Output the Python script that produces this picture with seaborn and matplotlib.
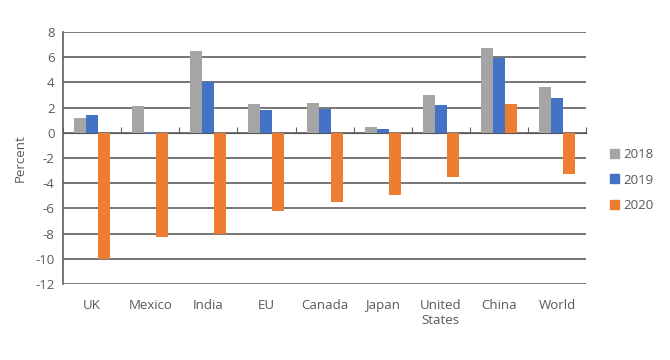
import pandas as pd
import matplotlib.pyplot as plt
import seaborn as sns
from matplotlib.patches import Patch

# datos
countries = ['UK', 'Mexico', 'India', 'EU', 'Canada', 'Japan', 'United\nStates', 'China', 'World']
g2018 = [1.2, 2.1, 6.5, 2.3, 2.4, 0.5, 3.0, 6.7, 3.6]
g2019 = [1.4, -0.1, 4.0, 1.8, 1.9, 0.3, 2.2, 5.9, 2.8]
g2020 = [-10.0, -8.3, -8.0, -6.2, -5.5, -4.9, -3.5, 2.3, -3.3]
years = ['2018', '2019', '2020']
colors = ['#A5A5A5', '#4472C4', '#ED7D31']

df = pd.DataFrame({'country': countries * 3,
                   'year': [y for y in years for _ in countries],
                   'value': g2018 + g2019 + g2020})

sns.set_style('white')
plt.rcParams['font.family'] = ['Open Sans', 'DejaVu Sans']
plt.rcParams['axes.unicode_minus'] = False
txt = '#595959'
grid = '#5F5F5F'

fig = plt.figure(figsize=(6.7, 3.6), dpi=100)
ax = fig.add_axes([0.094, 0.211, 0.781, 0.700])

sns.barplot(data=df, x='country', y='value', hue='year', palette=colors,
            width=0.62, saturation=1, linewidth=0, ax=ax, legend=False)

ax.set_ylim(-12, 8)
ax.set_xlim(-0.5, len(countries) - 0.5)
ax.set_yticks(range(-12, 9, 2))
ax.yaxis.grid(True, color=grid, linewidth=1.2)
ax.set_axisbelow(True)
for s in ['top', 'right', 'bottom']:
    ax.spines[s].set_visible(False)
ax.spines['left'].set_color(grid)
ax.spines['left'].set_linewidth(1.2)
ax.tick_params(axis='y', length=4, color=grid, colors=txt, labelsize=9.5, pad=2)
ax.tick_params(axis='x', length=0, colors=txt, labelsize=9.5, pad=11)
ax.set_xlabel('')
ax.set_ylabel('Percent', color=txt, fontsize=9.5, labelpad=6)

# linea del cero con marcas entre categorias
zero = ax.secondary_xaxis(12 / 20)
zero.spines['bottom'].set_color(grid)
zero.spines['bottom'].set_linewidth(1.2)
zero.set_xticks([i + 0.5 for i in range(-1, len(countries))])
zero.set_xticklabels([])
zero.tick_params(length=4, color=grid, labelbottom=False, labeltop=False)

handles = [Patch(color=c, label=y) for c, y in zip(colors, years)]
fig.legend(handles=handles, loc='center left', bbox_to_anchor=(0.893, 0.50),
           frameon=False, fontsize=9.5, labelcolor=txt, handlelength=0.65,
           handleheight=0.65, handletextpad=0.35, labelspacing=0.95)

fig.savefig('out.png', dpi=100)
